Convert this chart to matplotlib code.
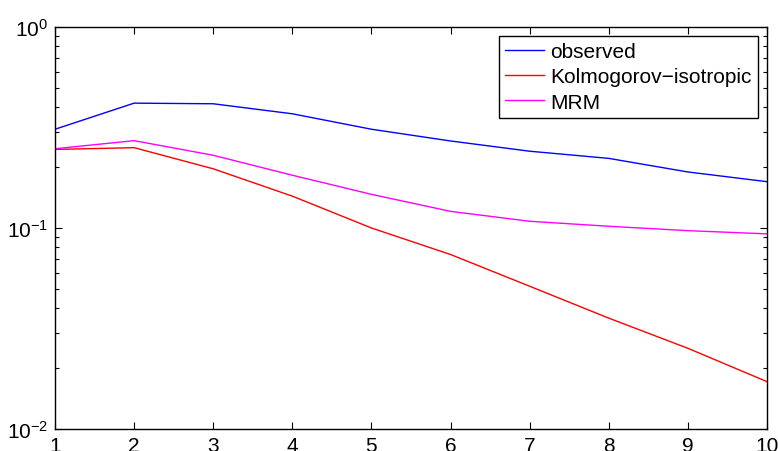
import numpy as np
import matplotlib
matplotlib.use('Agg')
import matplotlib.pyplot as plt
from matplotlib.ticker import LogLocator, NullFormatter, FixedLocator

plt.rcParams['font.family'] = ['Liberation Sans', 'DejaVu Sans']
plt.rcParams['mathtext.fontset'] = 'custom'
plt.rcParams['mathtext.rm'] = 'Liberation Sans'
plt.rcParams['mathtext.default'] = 'regular'

x = [1, 2, 3, 4, 5, 6, 7, 8, 9, 10]
observed = [0.31, 0.418, 0.415, 0.37, 0.31, 0.271, 0.241, 0.222, 0.19, 0.170]
kolmogorov = [0.246, 0.251, 0.197, 0.144, 0.100, 0.0738, 0.0513, 0.0356, 0.0252, 0.0172]
mrm = [0.248, 0.272, 0.230, 0.183, 0.147, 0.121, 0.108, 0.102, 0.097, 0.0935]
labels = ['observed', 'Kolmogorov\u2212isotropic', 'MRM']

fig = plt.figure(figsize=(7.78, 4.52), dpi=100)
ax = fig.add_axes([55 / 778, 1 - 430 / 452, 712 / 778, 402 / 452])

ax.semilogy(x, observed, color='#0000ff', lw=1.0, label=labels[0])
ax.semilogy(x, kolmogorov, color='#ff0000', lw=1.0, label=labels[1])
ax.semilogy(x, mrm, color='#ff00ff', lw=1.0, label=labels[2])

ax.set_xlim(1, 10)
ax.set_ylim(1e-2, 1e0)
ax.xaxis.set_major_locator(FixedLocator(x))
ax.yaxis.set_major_locator(LogLocator(base=10, numticks=10))
ax.yaxis.set_minor_locator(LogLocator(base=10, subs=np.arange(2, 10), numticks=20))
ax.yaxis.set_minor_formatter(NullFormatter())
ax.tick_params(which='both', direction='in', top=True, right=True, labelsize=15, width=0.8)
ax.tick_params(which='major', length=5)
ax.tick_params(which='minor', length=3)
ax.tick_params(axis='x', pad=5)
ax.tick_params(axis='y', pad=5)
for s in ax.spines.values():
    s.set_linewidth(1.0)

leg = ax.legend(loc='upper right', fontsize=15, frameon=True, fancybox=False,
                edgecolor='black', framealpha=1, borderpad=0.28, labelspacing=0.3,
                handlelength=1.85, handletextpad=0.33, borderaxespad=0.45)
leg.get_frame().set_linewidth(1.0)

fig.savefig('out.png', dpi=100)
